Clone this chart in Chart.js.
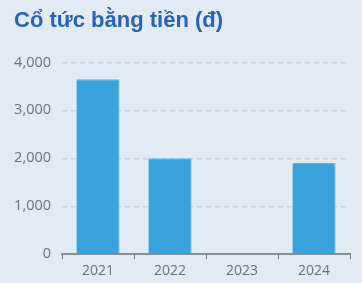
<!DOCTYPE html>
<html>
<head>
<meta charset="utf-8">
<script src="https://cdn.jsdelivr.net/npm/chart.js@4"></script>
<style>
  html, body { margin: 0; padding: 0; background: #e1ebf5; }
  #wrap { position: relative; width: 362px; height: 283px; }
</style>
</head>
<body>
<div id="wrap"><canvas id="divChart"></canvas></div>
<script>
// Cổ tức bằng tiền theo năm
const years = ['2021', '2022', '2023', '2024'];
const dividends = [3650, 2000, 0, 1900];
const yTicks = [0, 1000, 2000, 3000, 4000];

const tickColor = '#6e7177';

new Chart(document.getElementById('divChart'), {
  type: 'bar',
  data: {
    labels: years,
    datasets: [{
      data: dividends,
      backgroundColor: '#37a2dc',
      borderColor: '#5cb4e4',
      borderWidth: { top: 1, left: 0, right: 1, bottom: 0 },
      categoryPercentage: 0.6,
      barPercentage: 1
    }]
  },
  options: {
    responsive: true,
    maintainAspectRatio: false,
    animation: false,
    layout: { padding: { left: 14, right: 12, top: 0, bottom: 1 } },
    plugins: {
      legend: { display: false },
      tooltip: { enabled: false },
      title: {
        display: true,
        text: 'Cổ tức bằng tiền (đ)',
        align: 'start',
        color: '#2a62b5',
        font: { family: "'Liberation Sans', Arial, sans-serif", size: 22, weight: 'bold' },
        padding: { top: 8, bottom: 28 }
      }
    },
    scales: {
      x: {
        grid: {
          offset: true,
          drawOnChartArea: false,
          drawTicks: true,
          tickLength: 5,
          color: '#7a7d84'
        },
        border: { color: '#8a8d93', width: 2 },
        ticks: { color: tickColor, font: { family: "'Open Sans', sans-serif", size: 14 }, padding: 3 }
      },
      y: {
        min: 0,
        max: 4000,
        afterBuildTicks: axis => { axis.ticks = yTicks.map(v => ({ value: v })); },
        afterFit: axis => { axis.width = 48; },
        grid: {
          color: ctx => ctx.tick && ctx.tick.value === 0 ? 'rgba(0,0,0,0)' : '#c9d5e2',
          drawTicks: false,
          lineWidth: 1.5
        },
        border: { display: false, dash: [5, 4] },
        ticks: {
          color: tickColor,
          font: { family: "'Open Sans', sans-serif", size: 14.5 },
          padding: 11,
          callback: v => v.toLocaleString('en-US')
        }
      }
    }
  }
});
</script>
</body>
</html>
